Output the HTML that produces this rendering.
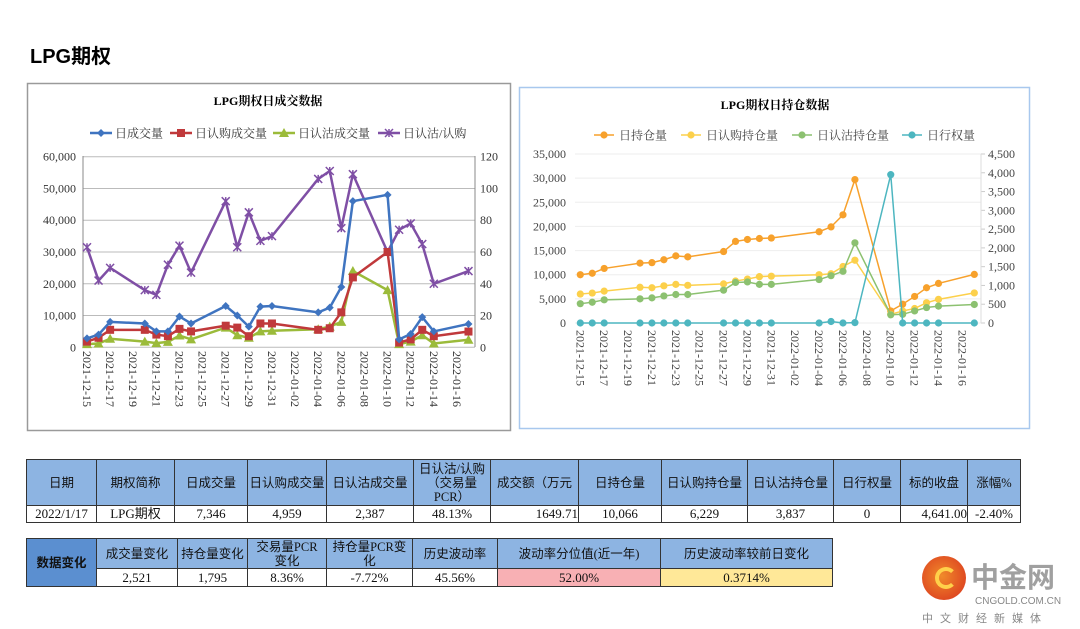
<!DOCTYPE html>
<html><head><meta charset="utf-8">
<style>
body{margin:0;background:#fff;width:1080px;height:629px;overflow:hidden;position:relative;font-family:"Liberation Serif","Noto Serif CJK SC",serif;}
.abs{position:absolute}
table{border-collapse:collapse;position:absolute;font-family:"Liberation Serif","Noto Sans CJK SC",serif;font-size:13px;color:#111;table-layout:fixed}
td{border:1.5px solid #333;text-align:center;padding:0;line-height:14px;white-space:nowrap;overflow:hidden}
.h td{background:#8db4e2;font-size:12.5px}
</style></head><body>
<div class="abs" style="left:30px;top:40px;font:bold 20px 'Liberation Sans','Noto Sans CJK SC',sans-serif;">LPG期权</div>
<svg class="abs" style="left:0;top:0" width="1080" height="440" id="svg"></svg>

<table style="left:26px;top:459px;width:993px">
<colgroup><col style="width:70px"><col style="width:78px"><col style="width:73px"><col style="width:79px"><col style="width:87px"><col style="width:77px"><col style="width:88px"><col style="width:83px"><col style="width:86px"><col style="width:86px"><col style="width:67px"><col style="width:67px"><col style="width:53px"></colgroup>
<tr class="h" style="height:46px"><td>日期</td><td>期权简称</td><td>日成交量</td><td>日认购成交量</td><td>日认沽成交量</td><td>日认沽/认购<br>（交易量<br>PCR）</td><td>成交额（万元</td><td>日持仓量</td><td>日认购持仓量</td><td>日认沽持仓量</td><td>日行权量</td><td>标的收盘</td><td>涨幅%</td></tr>
<tr style="height:17px"><td>2022/1/17</td><td>LPG期权</td><td>7,346</td><td>4,959</td><td>2,387</td><td>48.13%</td><td style="text-align:right">1649.71</td><td>10,066</td><td>6,229</td><td>3,837</td><td>0</td><td style="text-align:right">4,641.00</td><td>-2.40%</td></tr>
</table>

<table style="left:26px;top:538px;width:806px">
<colgroup><col style="width:70px"><col style="width:81px"><col style="width:70px"><col style="width:79px"><col style="width:86px"><col style="width:85px"><col style="width:163px"><col style="width:172px"></colgroup>
<tr class="h" style="height:30px"><td rowspan="2" style="background:#5b8fd0;font-weight:bold">数据变化</td><td>成交量变化</td><td>持仓量变化</td><td>交易量PCR<br>变化</td><td>持仓量PCR变<br>化</td><td>历史波动率</td><td>波动率分位值(近一年)</td><td>历史波动率较前日变化</td></tr>
<tr style="height:18px"><td>2,521</td><td>1,795</td><td>8.36%</td><td>-7.72%</td><td>45.56%</td><td style="background:#f8b0b4">52.00%</td><td style="background:#ffe898">0.3714%</td></tr>
</table>

<div class="abs" style="left:922px;top:553px;width:158px;height:76px">
<div class="abs" style="left:0;top:3px;width:44px;height:44px;border-radius:50%;background:radial-gradient(circle at 45% 45%,#f08a2a,#d8301e)"></div>
<div class="abs" style="left:13px;top:14px;width:14px;height:14px;border-radius:50%;border:4px solid #ffd04a;border-right-color:transparent"></div>
<div class="abs" style="left:49px;top:3px;font:28px 'Noto Sans CJK SC',sans-serif;font-weight:bold;color:#a0a0a0;letter-spacing:0px">中金网</div>
<div class="abs" style="left:53px;top:43px;font:10px 'Liberation Sans',sans-serif;color:#888">CNGOLD.COM.CN</div>
<div class="abs" style="left:0;top:57px;font:11px 'Noto Sans CJK SC',sans-serif;color:#888;letter-spacing:7px">中文财经新媒体</div>
</div>

<script>
// ---------- data ----------
const dayIdx=[0,1,2,5,6,7,8,9,12,13,14,15,16,20,21,22,23,26,27,28,29,30,33];
const tickLabels=["2021-12-15","2021-12-17","2021-12-19","2021-12-21","2021-12-23","2021-12-25","2021-12-27","2021-12-29","2021-12-31","2022-01-02","2022-01-04","2022-01-06","2022-01-08","2022-01-10","2022-01-12","2022-01-14","2022-01-16"];
const volTotal=[2800,4000,8000,7500,5000,5000,9700,7500,13000,10000,6500,12800,13000,11000,12500,19000,46000,48000,2500,4200,9500,5000,7346];
const volCall=[1800,3000,5500,5500,4000,3500,5800,5000,6800,6200,3500,7500,7500,5500,6000,11000,22000,30000,1500,2500,5500,3500,4959];
const volPut=[1000,1200,2700,1800,1300,1700,3700,2500,6200,3800,3000,5000,5200,5700,6500,8000,24000,18000,1000,1800,3800,1200,2387];
const volPCR=[63,42,50,36,33,52,64,47,92,63,85,67,70,106,111,75,109,60,74,78,65,40,48];
const oiTotal=[10000,10300,11300,12400,12500,13100,13900,13700,14800,16900,17300,17500,17600,18900,19900,22400,29700,2500,3900,5500,7300,8200,10066];
const oiCall=[6000,6200,6600,7400,7300,7700,8000,7800,8100,8700,9100,9600,9700,10000,10200,11700,13000,1800,2500,3000,4200,4900,6229];
const oiPut=[4000,4300,4800,5000,5200,5600,5900,5900,6800,8400,8500,8000,8000,9000,9800,10700,16600,1700,1800,2500,3200,3500,3837];
const exercise=[0,0,0,0,0,0,0,0,0,0,0,0,0,0,40,0,10,3950,0,0,0,0,0];
const leftTicks1=["0","10,000","20,000","30,000","40,000","50,000","60,000"];
const rightTicks1=["0","20","40","60","80","100","120"];
const leftTicks2=["0","5,000","10,000","15,000","20,000","25,000","30,000","35,000"];
const rightTicks2=["0","500","1,000","1,500","2,000","2,500","3,000","3,500","4,000","4,500"];

const svg=document.getElementById('svg');
const NS='http://www.w3.org/2000/svg';
function el(tag,attrs,parent){const e=document.createElementNS(NS,tag);for(const k in attrs)e.setAttribute(k,attrs[k]);(parent||svg).appendChild(e);return e;}
function txt(s,attrs,parent){const t=el('text',attrs,parent);t.textContent=s;return t;}
const F="'Liberation Serif','Noto Serif CJK SC',serif";

// ---------- chart 1 ----------
const c1=el('g',{});


el('rect',{x:27.5,y:83.5,width:483,height:347,fill:'#fff',stroke:'#9a9a9a','stroke-width':1.5},c1);
txt('LPG期权日成交数据',{x:268,y:105,'font-size':12,'font-weight':'bold','text-anchor':'middle','font-family':F},c1);
const X1=d=>87+d*11.56, Y1=v=>347.3-v/60000*190.6, Y1r=v=>347.3-v/120*190.6;
for(let i=0;i<=6;i++){const y=Y1(i*10000);
 el('line',{x1:83,x2:475,y1:y,y2:y,stroke:'#bbb','stroke-width':1},c1);
 const a=txt(leftTicks1[i],{x:76,y:y+4,'font-size':12,'text-anchor':'end','font-family':F,fill:'#333'},c1);
 
 const b=txt(rightTicks1[i],{x:480,y:y+4,'font-size':12,'font-family':F,fill:'#333'},c1);
 }
el('line',{x1:83,x2:83,y1:156,y2:347,stroke:'#888'},c1);
el('line',{x1:475,x2:475,y1:156,y2:347,stroke:'#888'},c1);
tickLabels.forEach((s,i)=>{const x=X1(i*2);const t=txt(s,{x:0,y:0,'font-size':12,'font-family':F,fill:'#333',transform:`translate(${x-4},351) rotate(90)`},c1);
 });
function line(g,vals,X,Y,color,w){const p=vals.map((v,i)=>X(dayIdx[i])+','+Y(v)).join(' ');const l=el('polyline',{points:p,fill:'none',stroke:color,'stroke-width':w},g);return l;}
function marker(g,type,x,y,color){
 if(type==='d')el('polygon',{points:`${x},${y-4} ${x+4},${y} ${x},${y+4} ${x-4},${y}`,fill:color},g);
 else if(type==='s')el('rect',{x:x-4,y:y-4,width:8,height:8,fill:color},g);
 else if(type==='t')el('polygon',{points:`${x},${y-5} ${x+5},${y+4} ${x-5},${y+4}`,fill:color},g);
 else if(type==='x'){el('path',{d:`M${x-4} ${y-4}L${x+4} ${y+4}M${x+4} ${y-4}L${x-4} ${y+4}M${x} ${y-4}V${y+4}`,stroke:color,'stroke-width':1.5},g);}
 else el('circle',{cx:x,cy:y,r:3.6,fill:color},g);}
const s1=[[volPCR,Y1r,'#7f4fa5','x','series-pcr'],[volPut,Y1,'#9bbb3a','t','series-put-volume'],[volCall,Y1,'#c0393b','s','series-call-volume'],[volTotal,Y1,'#3f74c0','d','series-total-volume']];
s1.forEach(([vals,Y,c,m,n])=>{const g=el('g',{},c1);
 
 line(g,vals,X1,Y,c,2.5);vals.forEach((v,i)=>marker(g,m,X1(dayIdx[i]),Y(v),c));});
const leg1=[['日成交量','#3f74c0','d',90],['日认购成交量','#c0393b','s',170],['日认沽成交量','#9bbb3a','t',273],['日认沽/认购','#7f4fa5','x',378]];
leg1.forEach(([s,c,m,x])=>{const g=el('g',{},c1);
 
 el('line',{x1:x,x2:x+22,y1:133,y2:133,stroke:c,'stroke-width':2.5},g);marker(g,m,x+11,133,c);
 txt(s,{x:x+25,y:137.5,'font-size':12,'font-family':F,fill:'#333'},g);});

// ---------- chart 2 ----------
const c2=el('g',{});


el('rect',{x:519.5,y:87.5,width:510,height:341,fill:'#fff',stroke:'#a8c8ee','stroke-width':1.5},c2);
txt('LPG期权日持仓数据',{x:775,y:109,'font-size':12,'font-weight':'bold','text-anchor':'middle','font-family':F},c2);
const X2=d=>580.3+d*11.94, Y2=v=>323-v/35000*169, Y2r=v=>323-v/4500*169;
for(let i=0;i<=7;i++){const y=Y2(i*5000);
 el('line',{x1:575,x2:981,y1:y,y2:y,stroke:'#eee','stroke-width':1},c2);
 const a=txt(leftTicks2[i],{x:566,y:y+4,'font-size':12,'text-anchor':'end','font-family':F,fill:'#444'},c2);
 }
for(let i=0;i<=9;i++){const y=Y2r(i*500);
 el('line',{x1:981,x2:985,y1:y,y2:y,stroke:'#ccc'},c2);
 const b=txt(rightTicks2[i],{x:988,y:y+4,'font-size':12,'font-family':F,fill:'#444'},c2);
 }
el('line',{x1:981,x2:981,y1:154,y2:323,stroke:'#ddd'},c2);
tickLabels.forEach((s,i)=>{const x=X2(i*2);const t=txt(s,{x:0,y:0,'font-size':12,'font-family':F,fill:'#444',transform:`translate(${x-4},330) rotate(90)`},c2);
 });
const s2=[[oiTotal,Y2,'#f7a12c','series-total-oi'],[oiCall,Y2,'#fcd04b','series-call-oi'],[oiPut,Y2,'#8cc170','series-put-oi'],[exercise,Y2r,'#4db6c0','series-exercise']];
s2.forEach(([vals,Y,c,n])=>{const g=el('g',{},c2);
 
 line(g,vals,X2,Y,c,1.5);vals.forEach((v,i)=>marker(g,'o',X2(dayIdx[i]),Y(v),c));});
const leg2=[['日持仓量','#f7a12c',594],['日认购持仓量','#fcd04b',681],['日认沽持仓量','#8cc170',792],['日行权量','#4db6c0',902]];
leg2.forEach(([s,c,x])=>{const g=el('g',{},c2);
 
 el('line',{x1:x,x2:x+20,y1:135,y2:135,stroke:c,'stroke-width':1.5},g);marker(g,'o',x+10,135,c);
 txt(s,{x:x+25,y:139.5,'font-size':12,'font-family':F,fill:'#444'},g);});
</script>
</body></html>
